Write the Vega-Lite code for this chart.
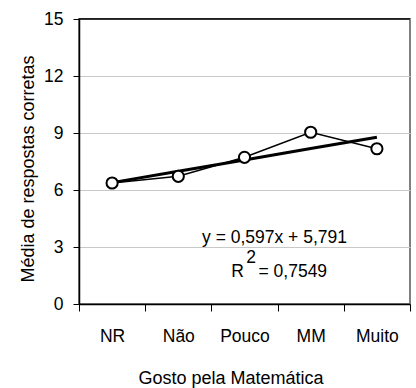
{
  "$schema": "https://vega.github.io/schema/vega-lite/v6.json",
  "width": 331,
  "height": 285,
  "autosize": "none",
  "padding": {"left": 79, "top": 19, "right": 6, "bottom": 84},
  "background": "white",
  "config": {
    "font": "Liberation Sans",
    "view": {"stroke": "#808080", "strokeWidth": 2}
  },
  "data": {
    "values": [
      {"cat": "NR", "media": 6.37, "trend": 6.388},
      {"cat": "Não", "media": 6.72, "trend": 6.985},
      {"cat": "Pouco", "media": 7.72, "trend": 7.582},
      {"cat": "MM", "media": 9.04, "trend": 8.179},
      {"cat": "Muito", "media": 8.17, "trend": 8.776}
    ]
  },
  "layer": [
    {
      "mark": {"type": "line", "color": "black", "strokeWidth": 1.5},
      "encoding": {
        "x": {
          "field": "cat",
          "type": "nominal",
          "sort": null,
          "scale": {"type": "band", "paddingInner": 0, "paddingOuter": 0},
          "axis": {
            "title": "Gosto pela Matemática",
            "titleFontSize": 18,
            "titleFontWeight": "normal",
            "titleColor": "black",
            "titleX": 151.5,
            "titleY": 79.3,
            "titleBaseline": "alphabetic",
            "titleAnchor": null,
            "labelAngle": 0,
            "labelFontSize": 17.5,
            "labelColor": "black",
            "labelPadding": 16,
            "tickBand": "extent",
            "tickSize": 7,
            "tickColor": "black",
            "domainColor": "black",
            "domainWidth": 1.5,
            "grid": false
          }
        },
        "y": {
          "field": "media",
          "type": "quantitative",
          "scale": {"domain": [0, 15], "nice": false, "zero": true},
          "axis": {
            "title": "Média de respostas corretas",
            "titleFontSize": 18,
            "titleFontWeight": "normal",
            "titleColor": "black",
            "titleAngle": -90,
            "titleX": -45.7,
            "titleY": 149.5,
            "titleAlign": "center",
            "titleBaseline": "alphabetic",
            "titleAnchor": null,
            "values": [0, 3, 6, 9, 12, 15],
            "labelFontSize": 17.5,
            "labelColor": "black",
            "labelPadding": 10,
            "tickSize": 6,
            "tickColor": "black",
            "domainColor": "black",
            "domainWidth": 1.5,
            "grid": true,
            "gridColor": "#c8c8c8",
            "gridWidth": 1.2
          }
        }
      }
    },
    {
      "data": {"values": [{}]},
      "mark": {"type": "rule", "color": "black", "strokeWidth": 1.5},
      "encoding": {"y": {"datum": 15}}
    },
    {
      "mark": {"type": "line", "color": "black", "strokeWidth": 3},
      "encoding": {
        "x": {"field": "cat", "type": "nominal", "sort": null},
        "y": {"field": "trend", "type": "quantitative"}
      }
    },
    {
      "mark": {"type": "point", "shape": "circle", "size": 125, "filled": false, "fill": "white", "fillOpacity": 1, "stroke": "black", "strokeWidth": 2, "opacity": 1},
      "encoding": {
        "x": {"field": "cat", "type": "nominal", "sort": null},
        "y": {"field": "media", "type": "quantitative"}
      }
    },
    {
      "data": {"values": [{}]},
      "mark": {"type": "text", "fontSize": 17.5, "color": "black", "align": "center", "baseline": "alphabetic", "dx": 30},
      "encoding": {
        "x": {"datum": "Pouco"},
        "y": {"datum": 3.23},
        "text": {"value": "y = 0,597x + 5,791"}
      }
    },
    {
      "data": {"values": [{}]},
      "mark": {"type": "text", "fontSize": 17.5, "color": "black", "align": "left", "baseline": "alphabetic", "dx": -13.3},
      "encoding": {
        "x": {"datum": "Pouco"},
        "y": {"datum": 1.42},
        "text": {"value": "R"}
      }
    },
    {
      "data": {"values": [{}]},
      "mark": {"type": "text", "fontSize": 17.5, "color": "black", "align": "left", "baseline": "alphabetic", "dx": 1.7, "dy": -14},
      "encoding": {
        "x": {"datum": "Pouco"},
        "y": {"datum": 1.42},
        "text": {"value": "2"}
      }
    },
    {
      "data": {"values": [{}]},
      "mark": {"type": "text", "fontSize": 17.5, "color": "black", "align": "left", "baseline": "alphabetic", "dx": 14},
      "encoding": {
        "x": {"datum": "Pouco"},
        "y": {"datum": 1.42},
        "text": {"value": "= 0,7549"}
      }
    }
  ]
}
